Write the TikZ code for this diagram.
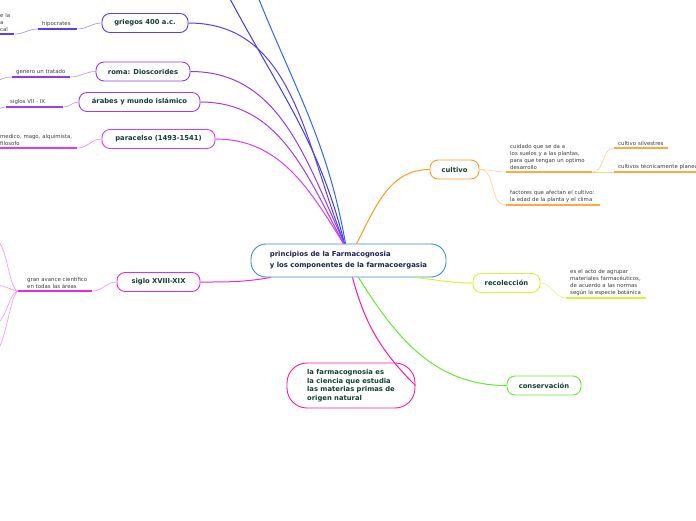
\documentclass[tikz,border=0pt]{standalone}
\usepackage{fontspec}
\setmainfont{DejaVu Sans}
\usetikzlibrary{positioning}

\definecolor{cgriegos}{RGB}{90,60,240}
\definecolor{coffA}{RGB}{60,60,225}
\definecolor{coffB}{RGB}{45,100,255}
\definecolor{croma}{RGB}{140,60,240}
\definecolor{carabes}{RGB}{165,60,235}
\definecolor{cparacelso}{RGB}{220,60,240}
\definecolor{csiglo}{RGB}{235,40,225}
\definecolor{cfarm}{RGB}{255,20,170}
\definecolor{ccultivo}{RGB}{255,155,30}
\definecolor{crecol}{RGB}{215,245,50}
\definecolor{cconserv}{RGB}{100,235,50}
\definecolor{ccentral}{RGB}{55,140,210}
\definecolor{topictext}{RGB}{22,62,50}
\definecolor{centraltext}{RGB}{25,35,80}
\definecolor{subtext}{RGB}{60,60,60}

\tikzset{
  topic/.style={draw=#1, line width=0.9pt, rounded corners=8pt, fill=white,
    font=\fontsize{6.8}{8}\selectfont\bfseries, text=topictext,
    minimum height=19pt, inner sep=2pt},
  sub/.style={anchor=south west, inner xsep=4pt, inner ysep=2.5pt, align=left,
    font=\fontsize{5.4}{6.8}\selectfont, text=subtext},
  uline/.style={draw=#1, line width=1.5pt},
  twig/.style={draw=#1, line width=0.6pt},
  branch/.style={draw=#1, line width=1pt},
}

\begin{document}
\begin{tikzpicture}[x=1pt,y=1pt]
  \useasboundingbox (0,0) rectangle (696,-520);

  % main topics
  \node[topic=ccentral, text=centraltext, minimum width=195pt, minimum height=33pt,
    rounded corners=15pt, align=left, font=\fontsize{6.9}{11}\selectfont\bfseries]
    (central) at (348.5,-260.5)
    {principios de la Farmacognosia\\y los componentes de la farmacoergasia};
  \node[topic=cgriegos, minimum width=86pt] (griegos) at (145,-23) {griegos 400 a.c.};
  \node[topic=croma, minimum width=94pt] (roma) at (143,-71.5) {roma: Dioscorides};
  \node[topic=carabes, minimum width=121pt] (arabes) at (139.5,-102) {árabes y mundo islámico};
  \node[topic=cparacelso, minimum width=113pt] (paracelso) at (158.5,-139) {paracelso (1493-1541)};
  \node[topic=csiglo, minimum width=83pt] (siglo) at (158.5,-282) {siglo XVIII-XIX};
  \node[topic=cfarm, minimum width=128pt, minimum height=45pt, rounded corners=20pt,
    align=left, font=\fontsize{6.8}{8.6}\selectfont\bfseries] (farm) at (351,-385.5)
    {la farmacognosia es\\la ciencia que estudia\\las materias primas de\\origen natural};
  \node[topic=ccultivo, minimum width=49pt] (cultivo) at (454.5,-169.5) {cultivo};
  \node[topic=crecol, minimum width=67pt] (recoleccion) at (506.5,-283) {recolección};
  \node[topic=cconserv, minimum width=74pt] (conservacion) at (544,-385.5) {conservación};

  % free ends of branches leaving the page
  \coordinate (offA) at (229,3);
  \coordinate (offB) at (258,3);

  % branches from the centre
  \draw[branch=coffA] (offA) to[out=-62,in=104] ([xshift=-4pt]central.north);
  \draw[branch=coffB] (offB) to[out=-68,in=100] ([xshift=-3pt]central.north);
  \draw[branch=cgriegos] (griegos.east) to[out=0,in=112] ([xshift=-4pt]central.north);
  \draw[branch=croma] (roma.east) to[out=0,in=115] ([xshift=-4pt]central.north);
  \draw[branch=carabes] (arabes.east) to[out=0,in=118] ([xshift=-5pt]central.north);
  \draw[branch=cparacelso] (paracelso.east) to[out=0,in=122] ([xshift=-5pt]central.north);
  \draw[branch=csiglo] (siglo.east) to[out=0,in=190] ([xshift=20pt]central.south west);
  \draw[branch=cfarm] ([xshift=4pt]central.south) to[out=-75,in=135] (farm.east);
  \draw[branch=cconserv] ([xshift=10pt]central.south) to[out=-58,in=180] (conservacion.west);
  \draw[branch=crecol] ([xshift=-33pt]central.south east) to[out=-5,in=180] (recoleccion.west);
  \draw[branch=ccultivo] ([xshift=8pt]central.north) to[out=62,in=180] (cultivo.west);

  % griegos
  \node[sub, text width=31pt] (hipocrates) at (38,-29) {hipocrates};
  \node[sub, text width=10pt] (padre) at (-4,-34) {e la\\a\\cal};
  \draw[uline=cgriegos] (hipocrates.south west) -- (hipocrates.south east);
  \draw[uline=cgriegos] (padre.south west) -- (padre.south east);
  \draw[twig=cgriegos!60] (griegos.west) to[out=180,in=0] (hipocrates.south east);
  \draw[twig=cgriegos!60] (hipocrates.south west) to[out=180,in=0] (padre.south east);

  % roma
  \node[sub, text width=50pt] (tratado) at (12,-77) {genero un tratado};
  \coordinate (tratadoL) at (-6,-84);
  \draw[uline=croma] (tratado.south west) -- (tratado.south east);
  \draw[twig=croma!60] (roma.west) to[out=180,in=0] (tratado.south east);
  \draw[twig=croma!60] (tratado.south west) to[out=180,in=40] (tratadoL);

  % arabes
  \node[sub, text width=49pt] (siglos) at (6,-107) {siglos VII - IX};
  \coordinate (siglosL) at (-6,-112);
  \draw[uline=carabes] (siglos.south west) -- (siglos.south east);
  \draw[twig=carabes!60] (arabes.west) to[out=180,in=0] (siglos.south east);
  \draw[twig=carabes!60] (siglos.south west) to[out=180,in=30] (siglosL);

  % paracelso
  \node[sub, text width=73pt] (medico) at (-4,-148) {medico, mago, alquimista,\\filosofo};
  \draw[uline=cparacelso] (medico.south west) -- (medico.south east);
  \draw[twig=cparacelso!60] (paracelso.west) to[out=180,in=0] (medico.south east);

  % siglo XVIII-XIX
  \node[sub, text width=61pt] (avance) at (23,-291) {gran avance científico\\en todas las áreas};
  \coordinate (fan) at (18,-291);
  \coordinate (fanA) at (-6,-238);
  \coordinate (fanB) at (-6,-285);
  \coordinate (fanC) at (-6,-325);
  \coordinate (fanD) at (-6,-356);
  \draw[uline=csiglo] (fan) -- (avance.south east);
  \draw[twig=csiglo!50] (siglo.west) to[out=180,in=0] (avance.south east);
  \draw[twig=csiglo!50] (fan) .. controls (8,-289) and (8,-242) .. (fanA);
  \draw[twig=csiglo!50] (fan) .. controls (10,-290) and (5,-285) .. (fanB);
  \draw[twig=csiglo!50] (fan) .. controls (8,-293) and (8,-320) .. (fanC);
  \draw[twig=csiglo!50] (fan) .. controls (10,-295) and (6,-345) .. (fanD);

  % cultivo
  \node[sub, text width=78pt] (cuidado) at (506,-172)
    {cuidado que se da a\\los suelos y a las plantas,\\para que tengan un optimo\\desarrollo};
  \node[sub, text width=86pt] (factores) at (506,-205)
    {factores que afectan el cultivo:\\la edad de la planta y el clima};
  \node[sub, text width=46pt] (silvestres) at (614,-148) {cultivo silvestres};
  \node[sub, text width=100pt] (tecnica) at (614,-172) {cultivos técnicamente planeados};
  \draw[uline=ccultivo!85] (cuidado.south west) -- (cuidado.south east);
  \draw[uline=ccultivo!85] (factores.south west) -- (factores.south east);
  \draw[uline=ccultivo!85] (silvestres.south west) -- (silvestres.south east);
  \draw[uline=ccultivo!85] (tecnica.south west) -- (tecnica.south east);
  \draw[twig=ccultivo!50] (cultivo.east) to[out=0,in=180] (cuidado.south west);
  \draw[twig=ccultivo!50] (cultivo.east) to[out=0,in=180] (factores.south west);
  \draw[twig=ccultivo!50] (cuidado.south east) to[out=0,in=180] (silvestres.south west);
  \draw[twig=ccultivo!50] (cuidado.south east) -- (tecnica.south west);

  % recoleccion
  \node[sub, text width=72pt] (acto) at (566,-298)
    {es el acto de agrupar\\materiales farmacéuticos,\\de acuerdo a las normas\\según la especie botánica};
  \draw[uline=crecol] (acto.south west) -- (acto.south east);
  \draw[twig=crecol!70] (recoleccion.east) to[out=0,in=180] (acto.south west);
\end{tikzpicture}
\end{document}
